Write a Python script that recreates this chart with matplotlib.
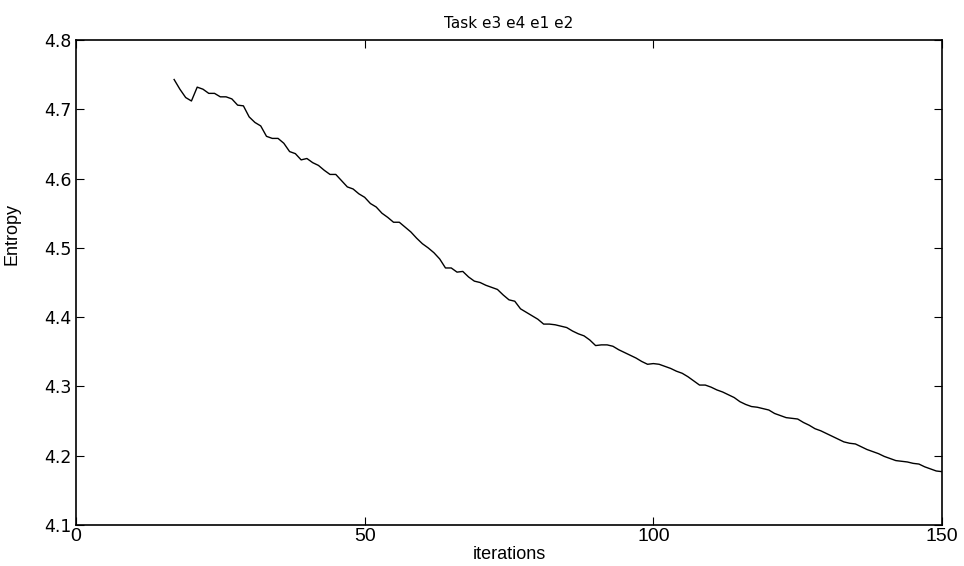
import matplotlib
matplotlib.use("Agg")
from matplotlib import pyplot as plt

# entropy per iteration
iterations = list(range(17, 151))
entropy = [
    4.743, 4.729, 4.717, 4.712, 4.732, 4.729, 4.723, 4.723, 4.718, 4.718,
    4.715, 4.706, 4.705, 4.689, 4.681, 4.676, 4.661, 4.658, 4.658, 4.651,
    4.639, 4.636, 4.627, 4.629, 4.623, 4.619, 4.612, 4.606, 4.606, 4.597,
    4.588, 4.585, 4.578, 4.573, 4.564, 4.559, 4.550, 4.544, 4.537, 4.537,
    4.530, 4.523, 4.514, 4.506, 4.500, 4.493, 4.484, 4.471, 4.471, 4.465,
    4.466, 4.458, 4.452, 4.450, 4.446, 4.443, 4.440, 4.432, 4.425, 4.423,
    4.412, 4.407, 4.402, 4.397, 4.390, 4.390, 4.389, 4.387, 4.385, 4.380,
    4.376, 4.373, 4.367, 4.359, 4.360, 4.360, 4.358, 4.353, 4.349, 4.345,
    4.341, 4.336, 4.332, 4.333, 4.332, 4.329, 4.326, 4.322, 4.319, 4.314,
    4.308, 4.302, 4.302, 4.299, 4.295, 4.292, 4.288, 4.284, 4.278, 4.274,
    4.271, 4.270, 4.268, 4.266, 4.261, 4.258, 4.255, 4.254, 4.253, 4.248,
    4.244, 4.239, 4.236, 4.232, 4.228, 4.224, 4.220, 4.218, 4.217, 4.213,
    4.209, 4.206, 4.203, 4.199, 4.196, 4.193, 4.192, 4.191, 4.189, 4.188,
    4.184, 4.181, 4.178, 4.177,
]
x_ticks = [0, 50, 100, 150]
y_ticks = [4.1, 4.2, 4.3, 4.4, 4.5, 4.6, 4.7, 4.8]

plt.rcParams['font.family'] = ['DejaVu Sans']
arial = ['Liberation Sans', 'DejaVu Sans']

fig = plt.figure(figsize=(9.64, 5.66), dpi=100)
ax = fig.add_axes([0.0788, 0.0724, 0.8984, 0.8569])
ax.plot(iterations, entropy, color='black', linewidth=1.0)

ax.set_xlim(0, 150)
ax.set_ylim(4.1, 4.8)
ax.set_xticks(x_ticks)
ax.set_yticks(y_ticks)
ax.set_yticklabels([f"{v:.1f}" for v in y_ticks], fontsize=12.5)
ax.set_xticklabels([str(v) for v in x_ticks], fontsize=14, family=arial)
ax.tick_params(direction='in', top=True, right=True, length=6, width=0.8, pad=3)
ax.tick_params(axis='x', pad=2)
for s in ax.spines.values():
    s.set_linewidth(1.2)

ax.set_title("Task e3 e4 e1 e2", fontsize=11, pad=9)
ax.set_xlabel("iterations", fontsize=13, family=arial, labelpad=1)
ax.set_ylabel("Entropy", fontsize=13, family=arial)
ax.yaxis.set_label_coords(-0.064, 0.6)

fig.savefig("out.png", dpi=100)
